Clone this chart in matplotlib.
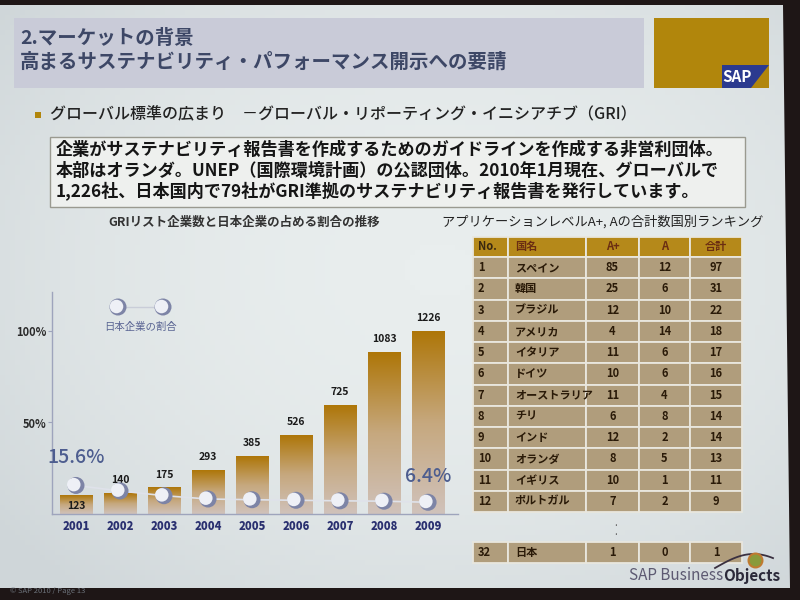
import numpy as np
import matplotlib
matplotlib.use("Agg")
import matplotlib.pyplot as plt
from matplotlib.colors import LinearSegmentedColormap
from matplotlib.patches import Rectangle, Polygon
from matplotlib.transforms import ScaledTranslation

plt.rcParams['font.family'] = ['Noto Sans CJK JP', 'DejaVu Sans']

# --- data -------------------------------------------------------------
years = ['2001', '2002', '2003', '2004', '2005', '2006', '2007', '2008', '2009']
gri_counts = [123, 140, 175, 293, 385, 526, 725, 1083, 1226]
japan_share = [15.6, 12.6, 10.0, 8.2, 7.8, 7.5, 7.2, 7.0, 6.4]   # % (only ends are labelled)

ranks = ['1', '2', '3', '4', '5', '6', '7', '8', '9', '10', '11', '12']
countries = ['スペイン', '韓国', 'ブラジル', 'アメリカ', 'イタリア', 'ドイツ',
             'オーストラリア', 'チリ', 'インド', 'オランダ', 'イギリス', 'ポルトガル']
level_a_plus = [85, 25, 12, 4, 11, 10, 11, 6, 12, 8, 10, 7]
level_a = [12, 6, 10, 14, 6, 6, 4, 8, 2, 5, 1, 2]
level_total = [97, 31, 22, 18, 17, 16, 15, 14, 14, 13, 11, 9]
japan_row = ['32', '日本', 1, 0, 1]
table_header = ['No.', '国名', 'A+', 'A', '合計']

# --- page -------------------------------------------------------------
fig = plt.figure(figsize=(8, 6), dpi=100, facecolor='#1e1616')
page = fig.add_axes([0, 0, 1, 1])
page.set_xlim(0, 800)
page.set_ylim(600, 0)
page.axis('off')

# slide background with a soft vignette (photo of a projected slide)
yy, xx = np.mgrid[0:1:120j, 0:1:160j]
vign = 1 - 0.9 * ((xx - 0.55) ** 2 + (yy - 0.45) ** 2)
bg_cmap = LinearSegmentedColormap.from_list('bg', ['#cfd6d9', '#e9eeee'])
slide = Polygon([(0, 5), (783, 5), (790, 588), (0, 588)], closed=True,
                facecolor='none', edgecolor='none')
page.add_patch(slide)
im = page.imshow(vign, extent=(0, 800, 600, 0), cmap=bg_cmap, aspect='auto',
                 vmin=0.55, vmax=1.0, zorder=0)
im.set_clip_path(slide)

# header
page.add_patch(Rectangle((14, 18), 630, 70, facecolor='#c9cbd8', edgecolor='none', zorder=1))
page.text(20, 38, '2.マーケットの背景', fontsize=14, fontweight='bold',
          color='#3d4766', va='center', zorder=2)
page.text(20, 62, '高まるサステナビリティ・パフォーマンス開示への要請', fontsize=14,
          fontweight='bold', color='#3d4766', va='center', zorder=2)
page.add_patch(Rectangle((654, 18), 115, 70, facecolor='#b1860c', edgecolor='none', zorder=1))
page.add_patch(Polygon([(722, 65), (769, 65), (751, 88), (722, 88)], closed=True,
                       facecolor='#2b3a8f', edgecolor='none', zorder=2))
page.text(737, 77, 'SAP', fontsize=11, fontweight='bold', color='white',
          ha='center', va='center', zorder=3)

# bullet and description box
page.add_patch(Rectangle((35, 112), 6, 6, facecolor='#b1860c', edgecolor='none'))
page.text(50, 115, 'グローバル標準の広まり　－グローバル・リポーティング・イニシアチブ（GRI）',
          fontsize=11.5, fontweight='medium', color='#222222', va='center')
page.add_patch(Rectangle((50, 137), 695, 70, facecolor='#eef0ee', edgecolor='#9a9a90',
                         linewidth=1, zorder=1))
box_lines = ['企業がサステナビリティ報告書を作成するためのガイドラインを作成する非営利団体。',
             '本部はオランダ。UNEP（国際環境計画）の公認団体。2010年1月現在、グローバルで',
             '1,226社、日本国内で79社がGRI準拠のサステナビリティ報告書を発行しています。']
for i, line in enumerate(box_lines):
    page.text(56, 150 + i * 20.5, line, fontsize=12.3, fontweight='bold',
              color='#151515', va='center', zorder=2)

page.text(244, 222, 'GRIリスト企業数と日本企業の占める割合の推移', fontsize=9,
          fontweight='bold', color='#333333', ha='center', va='center')
page.text(603, 222, 'アプリケーションレベルA+, Aの合計数国別ランキング', fontsize=9.5,
          color='#222222', ha='center', va='center')

# --- bar chart --------------------------------------------------------
ax = fig.add_axes([52 / 800, 1 - 514 / 600, 406 / 800, 222 / 600])
ax.patch.set_alpha(0)
x = np.arange(len(years))
bars = ax.bar(x, gri_counts, width=0.73, color='none', zorder=2)
bar_cmap = LinearSegmentedColormap.from_list('bar', ['#d0c2bb', '#c6a87e', '#ae7608'])
grad = np.linspace(1, 0, 256).reshape(-1, 1)
for b in bars:
    ax.imshow(grad, extent=(b.get_x(), b.get_x() + b.get_width(), 0, b.get_height()),
              cmap=bar_cmap, aspect='auto', zorder=2)
for i, (b, v) in enumerate(zip(bars, gri_counts)):
    if i == 0:
        ax.annotate(str(v), (b.get_x() + b.get_width() / 2, 0), xytext=(0, 2),
                    textcoords='offset points', ha='center', va='bottom',
                    fontsize=7.5, fontweight='bold', color='#1a1a1a', zorder=6)
    else:
        ax.annotate(str(v), (b.get_x() + b.get_width() / 2, v), xytext=(0, 6),
                    textcoords='offset points', ha='center', va='bottom',
                    fontsize=7.5, fontweight='bold', color='#1a1a1a', zorder=6)

ax.set_xlim(-0.545, 8.68)
ax.set_ylim(0, 1226 * 222 / 183)
ax.set_xticks(x)
ax.set_xticklabels(years, fontsize=8, fontweight='heavy', color='#2a3070')
ax.tick_params(axis='x', length=0, pad=4)
ax.set_yticks([])
for s in ['top', 'right']:
    ax.spines[s].set_visible(False)
for s in ['left', 'bottom']:
    ax.spines[s].set_color('#9ea4bc')
    ax.spines[s].set_linewidth(1)

# share of Japanese companies, 100% = bar of 2009
axp = ax.twinx()
axp.set_ylim(0, 100 * 222 / 183)
axp.yaxis.tick_left()
axp.set_yticks([50, 100])
axp.set_yticklabels(['50%', '100%'], fontsize=8, fontweight='bold', color='#2a2a2a')
axp.tick_params(axis='y', length=3, pad=1, color='#9ea4bc')
for s in axp.spines.values():
    s.set_visible(False)
axp.plot(x, japan_share, color='#dfe2ea', linewidth=1.2, zorder=3)
axp.scatter(x, japan_share, s=150, color='#7d84a6', edgecolors='none', zorder=4)
shift = ScaledTranslation(-1.6 / 72, 0.6 / 72, fig.dpi_scale_trans)
axp.scatter(x, japan_share, s=95, color='#eef0f6', edgecolors='none', zorder=5,
            transform=axp.transData + shift)
axp.annotate(f'{japan_share[0]}%', (x[0], japan_share[0]), xytext=(0, 13),
             textcoords='offset points', ha='center', va='bottom', fontsize=14,
             fontweight='medium', color='#4d5d8f', zorder=6)
axp.annotate(f'{japan_share[-1]}%', (x[-1], japan_share[-1]), xytext=(0, 12),
             textcoords='offset points', ha='center', va='bottom', fontsize=14,
             fontweight='medium', color='#4d5d8f', zorder=6)

# legend for the share line
page.plot([118, 163], [307, 307], color='#c9cdd8', linewidth=1, zorder=3)
page.scatter([118, 163], [307, 307], s=150, color='#7d84a6', edgecolors='none', zorder=4)
page.scatter([116.5, 161.5], [306.5, 306.5], s=95, color='#eef0f6', edgecolors='none', zorder=5)
page.text(140, 327, '日本企業の割合', fontsize=7.5, color='#5b6694', ha='center', va='center')

# --- ranking table ----------------------------------------------------
col_edges = [473, 508, 586, 639, 690, 742]
gap = '#e9e7de'


def table_row(y0, h, cells, face, txt_colors):
    for j, val in enumerate(cells):
        x0, x1 = col_edges[j], col_edges[j + 1]
        page.add_patch(Rectangle((x0, y0), x1 - x0, h, facecolor=face, edgecolor=gap,
                                 linewidth=1.3, zorder=2))
        if j <= 1:
            tx, ha = x0 + (5 if j == 0 else 7), 'left'
        else:
            tx, ha = (x0 + x1) / 2, 'center'
        page.text(tx, y0 + h / 2, str(val), fontsize=8, fontweight='bold',
                  color=txt_colors[j], ha=ha, va='center', zorder=3)


table_row(237, 19.5, table_header, '#b5891a',
          ['#3a2810', '#6b2e12', '#6b2e12', '#6b2e12', '#6b2e12'])
row_h = (512 - 257) / len(ranks)
for i in range(len(ranks)):
    table_row(257 + i * row_h, row_h,
              [ranks[i], countries[i], level_a_plus[i], level_a[i], level_total[i]],
              '#b09d7c', ['#2a1a08'] * 5)
page.text(616, 523, '.', fontsize=7, color='#555555', ha='center', va='center')
page.text(616, 532, '.', fontsize=7, color='#555555', ha='center', va='center')
table_row(542, 21, japan_row, '#b09d7c', ['#2a1a08'] * 5)

# --- footer logo ------------------------------------------------------
t = np.linspace(0, 1, 50)
page.plot(715 + 58 * t, 568 - 14 * np.sin(np.pi * t * 0.75), color='#3a3040',
          linewidth=1.3, zorder=4)
page.scatter([755], [560], s=100, color='#8a9a3a', edgecolors='#c07a30', linewidth=1.5, zorder=5)
page.text(723, 576, 'SAP Business', fontsize=11, color='#5d5a72', ha='right', va='center')
page.text(723, 576, 'Objects', fontsize=11, fontweight='bold', color='#2c2a3a',
          ha='left', va='center')
page.text(10, 591, '© SAP 2010 / Page 13', fontsize=5.5, color='#6a7078', va='center')

fig.savefig('out.png', dpi=100, facecolor=fig.get_facecolor())
